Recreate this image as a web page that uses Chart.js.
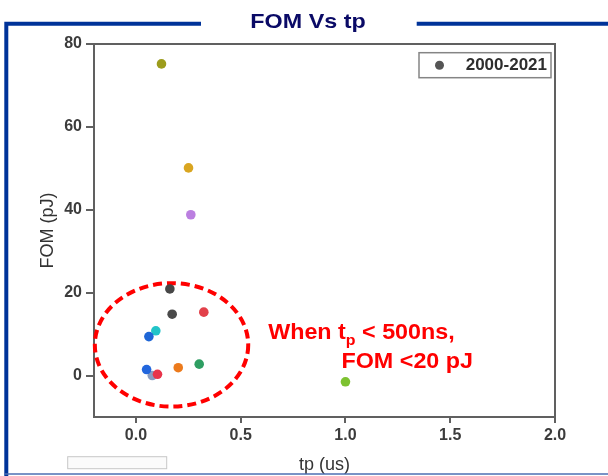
<!DOCTYPE html>
<html>
<head>
<meta charset="utf-8">
<script src="https://cdn.jsdelivr.net/npm/chart.js@4"></script>
<style>
  body { margin: 0; background: #fff; }
</style>
</head>
<body>
<canvas id="myChart" width="608" height="476"></canvas>
<script>
// pulse width (us) vs figure of merit (pJ), one colour per reported device
var seriesLabel = '2000-2021';
var tpValues  = [0.122, 0.251, 0.262, 0.162, 0.173, 0.324, 0.095, 0.062, 0.078, 0.051, 0.103, 0.202, 0.302, 1.0];
var fomValues = [75.2, 50.1, 38.8, 20.9, 14.8, 15.3, 10.8, 9.4, 0.0, 1.45, 0.3, 1.9, 2.75, -1.5];
var pointColors = ['#9c9c1c', '#d9a520', '#bb7fe0', '#474747', '#4a4a4a', '#e2404a', '#22c4c8',
                   '#1f66d6', '#8a9cc0', '#2266dd', '#e8344a', '#ec7a1c', '#2e9e62', '#7dc230'];
var xTicks = [0.0, 0.5, 1.0, 1.5, 2.0];
var yTicks = [0, 20, 40, 60, 80];

// dashed region around the short-pulse devices (data units)
var regionCenter = {x: 0.170, y: 7.4};
var regionRadius = {x: 0.366, y: 14.9};
var noteLine1 = ['When t', 'p', ' < 500ns,'];
var noteLine2 = 'FOM <20 pJ';

var FONT = "'Liberation Sans', Arial, sans-serif";

var points = tpValues.map(function(v, i){
    return {x: v, y: fomValues[i]};
});

// slide frame, title, plot box, legend, ellipse and note
var decorations = {
    id: 'decorations',
    beforeDatasetsDraw: function(chart){
        var ctx = chart.ctx;
        var a = chart.chartArea;
        var xs = chart.scales.x, ys = chart.scales.y;
        ctx.save();

        // plot box top + right
        ctx.strokeStyle = '#606060';
        ctx.lineWidth = 2;
        ctx.beginPath();
        ctx.moveTo(a.left, a.top);
        ctx.lineTo(a.right, a.top);
        ctx.lineTo(a.right, a.bottom);
        ctx.stroke();

        // dashed ellipse
        var cx = xs.getPixelForValue(regionCenter.x);
        var cy = ys.getPixelForValue(regionCenter.y);
        var rx = xs.getPixelForValue(regionCenter.x + regionRadius.x) - cx;
        var ry = cy - ys.getPixelForValue(regionCenter.y + regionRadius.y);
        ctx.strokeStyle = '#ff0000';
        ctx.lineWidth = 4;
        ctx.setLineDash([9, 5]);
        ctx.beginPath();
        ctx.ellipse(cx, cy, rx, ry, 0, 0, Math.PI * 2);
        ctx.stroke();
        ctx.setLineDash([]);
        ctx.restore();
    },
    afterDatasetsDraw: function(chart){
        var ctx = chart.ctx;
        var a = chart.chartArea;
        var xs = chart.scales.x, ys = chart.scales.y;
        ctx.save();

        // blue slide frame
        ctx.strokeStyle = '#003399';
        ctx.lineWidth = 4;
        ctx.beginPath();
        ctx.moveTo(6.3, 476);
        ctx.lineTo(6.3, 23.7);
        ctx.lineTo(201, 23.7);
        ctx.moveTo(416.7, 23.7);
        ctx.lineTo(608, 23.7);
        ctx.stroke();
        ctx.strokeStyle = '#4d6fb3';
        ctx.lineWidth = 1.5;
        ctx.beginPath();
        ctx.moveTo(4, 474);
        ctx.lineTo(608, 474);
        ctx.stroke();

        // slide title
        ctx.fillStyle = '#0a0a66';
        ctx.font = 'bold 21px ' + FONT;
        ctx.textAlign = 'center';
        ctx.textBaseline = 'alphabetic';
        ctx.save();
        ctx.translate(308, 27.6);
        ctx.scale(1.11, 1);
        ctx.fillText('FOM Vs tp', 0, 0);
        ctx.restore();

        // small empty box under the axis
        ctx.fillStyle = '#fbfbfb';
        ctx.fillRect(67.7, 456.7, 99, 12);
        ctx.strokeStyle = '#c8c8c8';
        ctx.lineWidth = 1;
        ctx.strokeRect(67.7, 456.7, 99, 12);

        // legend
        var bx = a.right - 136, by = a.top + 8.7, bw = 132, bh = 25;
        ctx.fillStyle = '#fff';
        ctx.fillRect(bx, by, bw, bh);
        ctx.strokeStyle = '#858585';
        ctx.lineWidth = 1.5;
        ctx.strokeRect(bx, by, bw, bh);
        ctx.fillStyle = '#555';
        ctx.beginPath();
        ctx.arc(bx + 20.5, by + bh / 2, 4.5, 0, Math.PI * 2);
        ctx.fill();
        ctx.fillStyle = '#2e2e2e';
        ctx.font = 'bold 17px ' + FONT;
        ctx.textAlign = 'right';
        ctx.textBaseline = 'middle';
        ctx.fillText(chart.data.datasets[0].label, bx + bw - 4, by + bh / 2 + 0.5);

        // red note
        ctx.fillStyle = '#ff0000';
        ctx.textAlign = 'left';
        ctx.textBaseline = 'alphabetic';
        var sx = 1.06;
        var x1 = xs.getPixelForValue(0.631), y1 = ys.getPixelForValue(8.79);
        ctx.save();
        ctx.translate(x1, y1);
        ctx.scale(sx, 1);
        ctx.font = 'bold 22px ' + FONT;
        var w0 = ctx.measureText(noteLine1[0]).width;
        ctx.fillText(noteLine1[0], 0, 0);
        ctx.font = 'bold 15px ' + FONT;
        var w1 = ctx.measureText(noteLine1[1]).width;
        ctx.fillText(noteLine1[1], w0, 6);
        ctx.font = 'bold 22px ' + FONT;
        ctx.fillText(noteLine1[2], w0 + w1, 0);
        ctx.restore();
        var x2 = xs.getPixelForValue(0.981), y2 = ys.getPixelForValue(1.79);
        ctx.save();
        ctx.translate(x2, y2);
        ctx.scale(sx, 1);
        ctx.font = 'bold 22px ' + FONT;
        ctx.fillText(noteLine2, 0, 0);
        ctx.restore();

        ctx.restore();
    }
};

var data = {
    datasets: [
        {
            label: seriesLabel,
            data: points,
            pointBackgroundColor: pointColors,
            pointBorderColor: pointColors,
            pointBorderWidth: 0,
            pointRadius: 4.8,
            showLine: false
        }
    ]
};

var tickFont = {family: FONT, size: 16, weight: 'bold'};

var config = {
    type: 'scatter',
    data,
    options: {
        responsive: false,
        animation: false,
        layout: {padding: {top: 44, right: 53, left: 0, bottom: 0}},
        plugins: {
            legend: {display: false},
            tooltip: {enabled: false}
        },
        scales: {
            x: {
                type: 'linear',
                min: -0.2,
                max: 2.0,
                afterBuildTicks: function(s){ s.ticks = xTicks.map(function(v){ return {value: v}; }); },
                afterFit: function(s){ s.height = 59; },
                grid: {drawOnChartArea: false, drawTicks: true, tickLength: 6, color: '#606060', lineWidth: 2},
                border: {display: true, color: '#606060', width: 2},
                ticks: {
                    padding: 3, color: '#3c3c3c', font: tickFont,
                    maxRotation: 0, autoSkip: false,
                    callback: function(v){ return Number(v).toFixed(1); }
                },
                title: {display: true, text: 'tp (us)', color: '#333', font: {family: FONT, size: 18}, padding: {top: 0, bottom: 0}}
            },
            y: {
                type: 'linear',
                min: -10,
                max: 80,
                afterBuildTicks: function(s){ s.ticks = yTicks.map(function(v){ return {value: v}; }); },
                afterFit: function(s){ s.width = 94; },
                grid: {drawOnChartArea: false, drawTicks: true, tickLength: 8, color: '#606060', lineWidth: 2},
                border: {display: true, color: '#606060', width: 2},
                ticks: {padding: 4, color: '#3c3c3c', font: tickFont},
                title: {display: true, text: 'FOM (pJ)', color: '#333', font: {family: FONT, size: 18}, padding: {top: 37, bottom: 0}}
            }
        }
    },
    plugins: [decorations]
};

var myChart = new Chart(
    document.getElementById('myChart'),
    config
);
</script>
</body>
</html>
